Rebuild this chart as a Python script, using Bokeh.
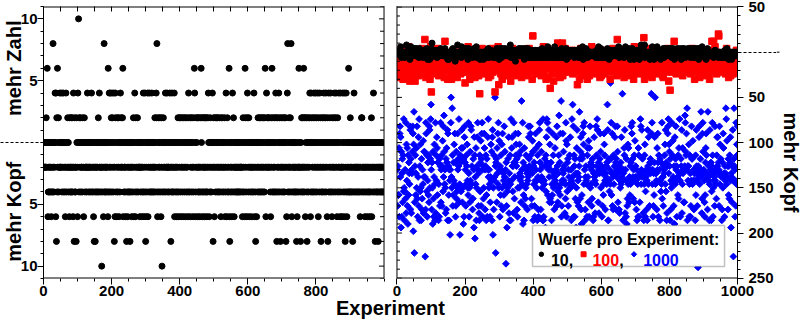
import math
from bokeh.plotting import figure
from bokeh.models import (Range1d, LinearAxis, FixedTicker, CustomJSTickFormatter,
                          Label, BoxAnnotation, Span)
from bokeh.layouts import row
from bokeh.embed import file_html
from bokeh.resources import INLINE

FONT = "Liberation Sans"

# ---------------- data ----------------
X_TICKS_LEFT = [0, 200, 400, 600, 800]
X_TICKS_RIGHT = [0, 200, 400, 600, 800, 1000]
Y_TICKS_LEFT = [-10, -5, 5, 10]
Y_TICKS_RIGHT = [-250, -200, -150, -100, -50, 50]
Y_TITLES_LEFT = ["mehr Zahl", "mehr Kopf"]     # upper / lower half of the left panel
Y_TITLE_RIGHT = "mehr Kopf"
X_TITLE = "Experiment"

LEGEND_TITLE = "Wuerfe pro Experiment:"
SERIES_NAMES = ["10", "100", "1000"]
COLORS = ["#000000", "#ff0000", "#0000ff"]

# 10 throws per experiment: difference Zahl - Kopf, one char per experiment
# a=-10 b=-8 c=-6 d=-4 e=-2 f=0 g=2 h=4 i=6 j=8 k=10
BLACK_10 = (
    "fefeefegfe" "ifcdefdefd" "efcdefdjef" "dfehfchbgd" "iefgdefhee"
    "fehdffehdf" "efdcehfdef" "gefdecgede" "gdegdecheb" "gdedebgfec"
    "hfkdgfegdf" "eefdgefceg" "fdefeedfhe" "efdefedfef" "hdefdecfbe"
    "dbefdefedf" "gfdheefdef" "aedfecfjde" "fdefedfeci" "dfhedhfegd"
    "hfgedhfbec" "hgdfcegdfe" "gcfdehfgef" "egicfdeefd" "cefbfdcefd"
    "efdbefdecf" "edfgcefhdc" "gefdegfdef" "eecfdeefcd" "efhdcefhdb"
    "cfedfhcfed" "hfedfedhfe" "dfedfegdfe" "hgjdcfegdf" "egfdcegafd"
    "egfdeffhde" "fehedfeedf" "hefbdehfde" "fdehcfedfe" "cdfegdcfge"
    "fdgcefgdec" "fgedfgcefd" "gefcdhgfdf" "cgefdgefcd" "egihfcdegf"
    "egcdegdecg" "deifgdcegd" "egcedgedgc" "edghfecfdg" "efdfehfbeg"
    "fcegdfegfd" "gefdegfdef" "cgedfgefde" "fgcedhfceg" "dfedicbfed"
    "fecdhfegdc" "feedfedfed" "fedfedfeed" "efecdgfedf" "cigedfcghf"
    "edgcfefdef" "cedfedfhec" "fdbefcfedg" "fedgfedgfe" "dgfedgefdg"
    "iecfhegfeg" "fegfedcfge" "idfgedfegd" "fhgdbegfde" "hfgdebfged"
    "fegdfegdfe" "gbfcehjdfe" "gdefgejdcf" "efdfeedfed" "febdcfedei"
    "efedbfegde" "gdeigdegcf" "egdbfegdfe" "ghfcdhgfde" "fgdhefgdhe"
    "fgdehfcged" "hfegbdfegd" "fehgdfeghd" "fecgbfhdef" "gdhefdcgef"
    "deghfedghf" "ecdgfehdfe" "chdeecfehd" "fechdbfehd" "cfedfieddf"
    "gedfedfbed" "fhedfefdef" "defedfedfc" "efdggefdef" "defcedfefd"
    "cefdefdcef" "degcfedfhe" "dfebfdefde" "fdbefdefed" "fedfedfedf"
)
CODE_10 = "abcdefghijk"          # value = -10 + 2*index

# 100 throws per experiment; value = -46 + 2*index in CODE_100
RED_100 = (
    "H9KDJGBIOM" "GHLCFPJ8HE" "KGDNHFAIGJ" "ELHQCKF7DH" "JAGMEOKFBI"
    "FH7JGLEIOH" "GKAFHNDIGE" "HMEPBJFIHD" "JUFC9KGEIB" "GDLHFJ8HQK"
    "1GIEHKCFJO" "DGMFIBHPKG" "FJAHGLDIEH" "KFHCGJEN9G" "TEHFIDKG8J"
    "HGEKDIFMC8" "JFGBOELGIA" "GKHDFJ9HMC" "IGFHKDBJPE" "HLEIFCGNH6"
    "GEJHCKFIQD" "MHF8GJEOKB" "IFGDHLEJ9C" "HKFEIGDHNA" "FH0GKEIDHP"
    "JGDHMEFIBK" "GOEJCFLH9I" "DKFHAGJPIH" "GCFKHIE1JN" "FGKDIHQJ5G"
    "HEIGBLFJ8H" "KGFOEICNGJ" "FDHKGAJEHI" "GLF7IHEKPD" "JHBFGMDIEA"
    "GIEKFHCJGL" "DHOIG9KEHJ" "FGCHMEIDKA" "HJFBGEKPHF" "DGLHEJ8IWC"
    "HFJDGKEIHB" "LGNHCJEGIK" "FHDAIGMEJQ" "GCKFHEJ8GI" "EHOL9GJHF3"
    "GJEHCKFIG7" "HLFBGJOIHK" "FSGDHEJC9G" "HKFDISAGEJ" "GHCPLEIHKD"
    "IEGHKDFJCH" "GMEIOBFKGJ" "DHFLGEIJC5" "HGKEF8IDHP" "FCGHLAJBIN"
    "HJDGKFIE8H" "LGFHAJEIGM" "DQKFCGIEHJ" "GBFHKDJOIG" "HFLCG9EKHA"
    "GIFHDKEJBH" "FGMCIHOKGJ" "DHLFG8IEJH" "KGCPHIDJEG" "HFKEIAUDJN"
    "JEHGBKFIDH" "GLFHCJ9GIE" "HKDOGMEJCA" "FGIDHKBEJG" "IHFC8GQKHD"
    "GHEJCIFKDH" "LFGBHJENGK" "DHFGVC8EIH" "GKFAHPLDIG" "JHCFGKEI9B"
    "HFIDGKCJOH" "GMFHBIEJGK" "FHDLGCIEHA" "G9FKHEIDJG" "HCFLPEJ7HK"
    "G2EHKDFIJC" "HGFTLEIHGB" "JDHOKGCIEH" "GLFJDHEKAG" "IHFCGJENHD"
    "FJGHDKEICH" "GBFLHJPGIK" "DHF8GMEJHC" "IGKFHDEJ9L" "HFCIGNKBHA"
    "GHDJFKEICG" "HLFBGJO8HK" "DGFHTJCEIT" "HKGQDJEHBI" "GFHXWKDIEH"
    "JEGHCKFIDH" "GMFHBJEPGK" "FHD9GLEJCA" "IGKFHDBJEG" "HFLCIGOKHJ"
)
CODE_100 = "0123456789ABCDEFGHIJKLMNOPQRSTUVWXYZ"

# 1000 throws per experiment; value = -250 + 4*index in CODE_1000
BLUE_1000 = (
    "UKVNNaHegS" "dEZHTXLYOi" "PGOUMhIbRa" "KFYNWTQgfJ" "XIUTZgeDbk"
    "7LVYNTaPgM" "HSdKiGVObP" "GXJMUQcISZ" "ZS6JheOYHR" "WNYLgfPXim"
    "UJWPFZMHSb" "QGhIYRdaNW" "WGQHXKVhLU" "YKVcOgSjZQ" "UPIXJaWfGe"
    "VNGURCUhoS" "PlYKNWRbQe" "WHKZMOPeUX" "ViLQCYWOaf" "XLaPFXHdgW"
    "UKQYVbRPNh" "THPLZRgfQV" "MJMXUEdYBS" "QaGPVdhUKT" "IGYOWcKXeh"
    "UHVMPeaUJV" "YGNXHUdiSP" "UQHLSbRZGd" "fCPJYRSoV7" "WXLaTeQhPc"
    "UHVNYKUbPe" "JTRNgSZQU4" "WKEOPXRdIT" "GYQGiRadVO" "VIhWMSWeYb"
    "VXJHPeSYPb" "TZRLSnUQhF" "WNGaKVMPYU" "QTJRSgdXVT" "geYUMKTcZG"
    "VQWKHReUaP" "RGYSJHbfhW" "UJRZSPVGiG" "HRQXVEYOdi" "WhNVUfSLbM"
    "UWLGQNeSYP" "TJSaRUQdKg" "VLOTYjPWNe" "QnHKRUeTZR" "VUIQMhcHbO"
    "WXKUSQYPdP" "UGRiSmQgHY" "VHXMTEPafL" "TRKSVkXMZd" "JFNXYegbQh"
    "UGJSVRQHYa" "SLcHaVgPQW" "UKMXVGHTdS" "RITQgYVifT" "LWIUTXeZPD"
    "VHTKUNQebY" "RJTSVQWmfG" "GXROUQsXhN" "TeKSJYQTVd" "gWJXSUgZLT"
    "UJVIRPWQdU" "SpRGTUaYfI" "URHXFKMbQa" "RLSNVQWgRe" "hXSMURYLcS"
    "VRJUGSQHaY" "HSLTigQUfS" "XTISGQYbHO" "SUJRGfVQdT" "UKWXTWpehQ"
    "UHKTNWdoQT" "TRJaUeWHYR" "UGXROWQhMS" "SKVUTYbQfO" "WGIVegiTbZ"
    "VGXJRPhQYc" "SRKVFdQXgU" "VHRSNYMaTi" "RHTXVfIQaT" "ULULVjhZYe"
    "UlGVRVbHQY" "THKRgXXQcR" "UJTRUGYNfV" "RKT3VSdgQT" "XSkUIMehZT"
    "URLHNWaeYS" "TJkRSVGQfT" "UWGOVhYHPR" "TSKgRUQMYd" "VdTWUKgQbT"
    "XTSGJWPeaT" "SHVRTliQcS" "VJXNVMYWdR" "ETSLVfR6Xl" "VUHRKhQbYg"
)
CODE_1000 = "0123456789ABCDEFGHIJKLMNOPQRSTUVWXYZabcdefghijklmnopqrstuvwxyz"

y10 = [-10 + 2 * CODE_10.index(c) for c in BLACK_10]
y100 = [-46 + 2 * CODE_100.index(c) for c in RED_100]
y1000 = [-250 + 4 * CODE_1000.index(c) for c in BLUE_1000]
x10 = list(range(1, len(y10) + 1))
x100 = list(range(1, len(y100) + 1))
x1000 = list(range(1, len(y1000) + 1))

# ---------------- geometry ----------------
H = 323
TOP, BOTTOM = 6, 45
PANEL_PX = 342                      # width of each panel frame
GAP_PX = 13                         # white gap between the two panels
UPX = 1000.0 / PANEL_PX             # x data units per pixel
XR0 = 1000.0 + GAP_PX * UPX         # where the right panel starts (left-panel units)
XMAX = XR0 + 1000.0
YL = (-11, 11)
YR = (-250.3, 50.5)
BL, BR = 42, 37                     # left / right borders of the main figure
PW = BL + 2 * PANEL_PX + GAP_PX + BR
TRW = 800 - PW                      # right title strip


# ---------------- helpers ----------------
def style_ticks(ax, tin, tout, min_in, min_out):
    ax.major_tick_line_color = "black"
    ax.minor_tick_line_color = "black"
    ax.major_tick_in = tin
    ax.major_tick_out = tout
    ax.minor_tick_in = min_in
    ax.minor_tick_out = min_out


def label_font(ax, standoff, size="15px"):
    ax.major_label_standoff = standoff
    ax.major_label_text_font = FONT
    ax.major_label_text_font_style = "bold"
    ax.major_label_text_font_size = size
    ax.major_label_text_color = "black"


def blank_labels(ax):
    ax.formatter = CustomJSTickFormatter(code="return '';")
    ax.major_label_standoff = 0
    ax.major_label_text_font_size = "0px"


def text_label(p, x, y, text, size, color="black", angle=0.0, align="left",
               baseline="alphabetic", level="annotation", rn="default"):
    lab = Label(x=x, y=y, text=text, angle=angle, text_align=align,
                text_baseline=baseline, text_font=FONT, text_font_style="bold",
                text_font_size=size, text_color=color, level=level,
                x_range_name=rn, y_range_name=rn)
    p.add_layout(lab)
    return lab


# ---------------- main figure holding both panels ----------------
p = figure(width=PW, height=H,
           x_range=Range1d(0, XMAX), y_range=Range1d(*YL),
           x_axis_type=None, y_axis_type=None, output_backend="svg",
           toolbar_location=None, title=None,
           min_border_left=BL, min_border_right=BR,
           min_border_top=TOP, min_border_bottom=BOTTOM)
p.extra_x_ranges = {"r": Range1d(-XR0, 1000)}
p.extra_y_ranges = {"r": Range1d(*YR)}
p.outline_line_color = None

# bottom axis (both panels) with the shared title
xt = X_TICKS_LEFT + [XR0 + t for t in X_TICKS_RIGHT]
xm = list(range(0, 1001, 50)) + [XR0 + m for m in range(0, 1001, 50)]
xb = LinearAxis(ticker=FixedTicker(ticks=xt, minor_ticks=xm),
                formatter=CustomJSTickFormatter(args=dict(off=XR0, half=XR0 - 19),
                                                code="return (tick > half ? tick - off : tick).toFixed(0);"))
xb.axis_line_color = None
style_ticks(xb, 0, 6, 0, 3)
label_font(xb, 1)
xb.axis_label = X_TITLE
xb.axis_label_text_font = FONT
xb.axis_label_text_font_style = "bold"
xb.axis_label_text_font_size = "20px"
xb.axis_label_text_color = "black"
xb.axis_label_standoff = -2
p.add_layout(xb, "below")

# top mirror ticks
xa = LinearAxis(ticker=FixedTicker(ticks=xm, minor_ticks=[]))
xa.axis_line_color = None
style_ticks(xa, 5, 0, 0, 0)
blank_labels(xa)
p.add_layout(xa, "above")

# left axis (10 throws): ticks + labels, then the two half titles, then the dashed zero line
yl = LinearAxis(ticker=FixedTicker(ticks=Y_TICKS_LEFT, minor_ticks=list(range(-11, 12))),
                formatter=CustomJSTickFormatter(code="return Math.abs(tick).toFixed(0);"))
yl.axis_line_color = "black"
style_ticks(yl, 0, 6, 0, 3)
label_font(yl, 0)
p.add_layout(yl, "left")

yt = LinearAxis(ticker=FixedTicker(ticks=[6.0, -5.6], minor_ticks=[]),
                formatter=CustomJSTickFormatter(args=dict(up=Y_TITLES_LEFT[0], down=Y_TITLES_LEFT[1]),
                                                code="return tick > 0 ? up : down;"))
yt.axis_line_color = None
style_ticks(yt, 0, 0, 0, 0)
label_font(yt, -8, "20px")
yt.major_label_orientation = "vertical"
p.add_layout(yt, "left")

yl0 = LinearAxis(ticker=FixedTicker(ticks=[0], minor_ticks=[]))
yl0.axis_line_color = None
style_ticks(yl0, 41, 0, 0, 0)
yl0.major_tick_line_dash = "3 2"
blank_labels(yl0)
p.add_layout(yl0, "left")

# right axis (10/100/1000 throws)
yr = LinearAxis(y_range_name="r",
                ticker=FixedTicker(ticks=Y_TICKS_RIGHT, minor_ticks=list(range(-250, 51, 10))),
                formatter=CustomJSTickFormatter(code="return Math.abs(tick).toFixed(0);"))
yr.axis_line_color = "black"
style_ticks(yr, 0, 6, 0, 3)
label_font(yr, 5)
p.add_layout(yr, "right")
yr0 = LinearAxis(y_range_name="r", ticker=FixedTicker(ticks=[0], minor_ticks=[]))
yr0.axis_line_color = None
style_ticks(yr0, BR, 0, 0, 0)
yr0.major_tick_line_dash = "3 2"
blank_labels(yr0)
p.add_layout(yr0, "right")

# ---- data ----
p.scatter(x10, y10, marker="circle", size=6, color=COLORS[0])
p.scatter(x1000, y1000, marker="square", angle=math.pi / 4, size=4.8, color=COLORS[2],
          x_range_name="r", y_range_name="r")
p.scatter(x100, y100, marker="square", size=6.5, color=COLORS[1],
          x_range_name="r", y_range_name="r")
p.scatter(x10, y10, marker="circle", size=6, color=COLORS[0],
          x_range_name="r", y_range_name="r")

# ---- panel frames ----
p.segment(x0=[0, 0], y0=[YL[1], YL[0]], x1=[1000, 1000], y1=[YL[1], YL[0]],
          line_color="black", line_width=2)
p.segment(x0=[0, 0], y0=[YR[1], YR[0]], x1=[1000, 1000], y1=[YR[1], YR[0]],
          line_color="black", line_width=2, x_range_name="r", y_range_name="r")
# inner mirrored ticks
yl_in = list(range(-11, 12))
p.segment(x0=[1000 - (5 if v in Y_TICKS_LEFT else 4) * UPX for v in yl_in], y0=yl_in,
          x1=[1000] * len(yl_in), y1=yl_in, line_color="black", line_width=1)
yr_in = list(range(-250, 51, 10))
p.segment(x0=[0] * len(yr_in), y0=yr_in,
          x1=[(5 if v % 50 == 0 else 3) * UPX for v in yr_in], y1=yr_in,
          line_color="black", line_width=1, x_range_name="r", y_range_name="r")
# white gap between the panels and the two inner frame edges
p.add_layout(BoxAnnotation(left=1000, right=XR0, fill_color="white", fill_alpha=1.0,
                           line_color=None))
p.add_layout(Span(location=1000, dimension="height", line_color="black", line_width=1))
p.add_layout(Span(location=XR0, dimension="height", line_color="black", line_width=1))

# ---- legend (custom, because the entry texts are coloured) ----
p.add_layout(BoxAnnotation(left=398, right=962, top=-191.6, bottom=-237,
                           fill_color="white", fill_alpha=1.0,
                           line_color="#333333", line_width=1.5,
                           x_range_name="r", y_range_name="r"))
text_label(p, 415, -207.7, LEGEND_TITLE, "16px", level="overlay", rn="r")
p.scatter([424], [-223.5], marker="circle", size=4.5, color=COLORS[0], level="overlay",
          x_range_name="r", y_range_name="r")
text_label(p, 452, -229.6, SERIES_NAMES[0] + ",", "16px", color=COLORS[0], level="overlay", rn="r")
p.scatter([548], [-223.5], marker="square", size=5, color=COLORS[1], level="overlay",
          x_range_name="r", y_range_name="r")
text_label(p, 574, -229.6, SERIES_NAMES[1], "16px", color=COLORS[1], level="overlay", rn="r")
text_label(p, 653, -229.6, ",", "16px", color=COLORS[0], level="overlay", rn="r")
p.scatter([696], [-223.5], marker="square", angle=math.pi / 4, size=3.8, color=COLORS[2],
          level="overlay", x_range_name="r", y_range_name="r")
text_label(p, 723, -229.6, SERIES_NAMES[2], "16px", color=COLORS[2], level="overlay", rn="r")

# ---------------- right strip with the vertical title ----------------
tr = figure(width=TRW, height=H, x_range=Range1d(0, TRW), y_range=Range1d(*YR),
            x_axis_type=None, y_axis_type=None, output_backend="svg",
            toolbar_location=None, title=None, min_border_left=0, min_border_right=0,
            min_border_top=TOP, min_border_bottom=BOTTOM)
tr.outline_line_color = None
tr.line([0, 4], [0, 0], line_color="black", line_width=1, line_dash="3 2")
text_label(tr, 14, -122, Y_TITLE_RIGHT, "20px", angle=-math.pi / 2, align="center", baseline="middle")

layout = row(p, tr)
open("out.html", "w").write(file_html(layout, INLINE))
